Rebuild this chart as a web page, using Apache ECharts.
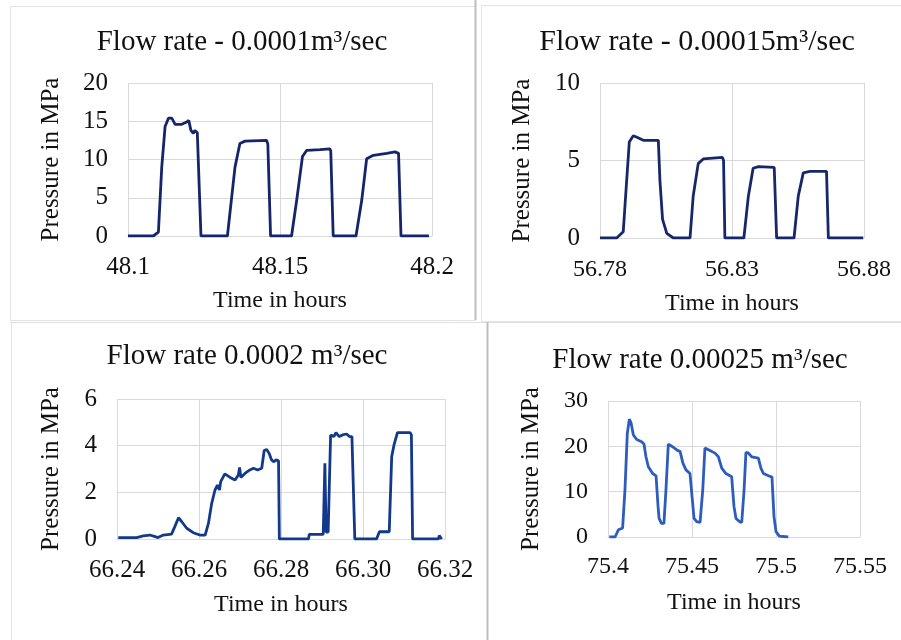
<!DOCTYPE html>
<html>
<head>
<meta charset="utf-8">
<title>Flow rate tests</title>
<script src="https://cdn.jsdelivr.net/npm/echarts@6/dist/echarts.min.js"></script>
<style>
  body { margin: 0; background: #fff; }
  #chart { width: 901px; height: 640px; }
</style>
</head>
<body>
<div id="chart"></div>
<script>
// panel 1 - 0.0001 m3/sec
var time1 = [48.1, 48.1083, 48.110, 48.1111, 48.1122, 48.1133, 48.1144, 48.1155, 48.1177, 48.1193, 48.1200, 48.1207, 48.1215, 48.1220, 48.1228, 48.1240,
  48.1327, 48.1340, 48.1352, 48.1368, 48.1385, 48.1456, 48.1460, 48.1469,
  48.1538, 48.1555, 48.1574, 48.1588, 48.1632, 48.1664, 48.1667, 48.1675,
  48.1750, 48.1769, 48.1785, 48.1807, 48.1851, 48.1878, 48.1890, 48.1898, 48.1990];
var pres1 = [0, 0, 0.5, 9.0, 14.3, 15.4, 15.4, 14.6, 14.6, 14.9, 15.1, 13.8, 13.4, 13.8, 13.5, 0,
  0, 4.7, 9.0, 12.1, 12.4, 12.5, 12.0, 0,
  0, 4.7, 10.4, 11.2, 11.3, 11.4, 11.1, 0,
  0, 4.7, 10.1, 10.55, 10.8, 11.0, 10.8, 0, 0];

// panel 2 - 0.00015 m3/sec
var time2 = [56.78, 56.7863, 56.7888, 56.7901, 56.7911, 56.7926, 56.7940, 56.7964, 56.8000, 56.8021, 56.8027, 56.8037, 56.8053, 56.8078,
  56.8141, 56.8153, 56.8172, 56.8191, 56.8264, 56.8268, 56.8273,
  56.8345, 56.8362, 56.8380, 56.8400, 56.8460, 56.8469,
  56.8535, 56.8551, 56.8570, 56.8595, 56.8658, 56.8665, 56.8797];
var pres2 = [0, 0, 0.4, 3.7, 6.2, 6.6, 6.5, 6.3, 6.3, 6.3, 3.7, 1.2, 0.3, 0,
  0, 2.7, 4.8, 5.1, 5.2, 5.0, 0,
  0, 2.7, 4.5, 4.6, 4.55, 0,
  0, 2.7, 4.2, 4.3, 4.3, 0, 0];

// panel 3 - 0.0002 m3/sec
var time3 = [66.2403, 66.2448, 66.2464, 66.2480, 66.2493, 66.2500, 66.2513, 66.2533, 66.2541, 66.2550, 66.2558, 66.2570, 66.2586, 66.2602, 66.2615,
  66.2623, 66.2631, 66.2639, 66.2645, 66.2650, 66.2653, 66.2663, 66.2676, 66.2688, 66.2696, 66.2699, 66.2702, 66.2712, 66.2724, 66.2733, 66.2743,
  66.2753, 66.2759, 66.2765, 66.2771, 66.2777, 66.2782, 66.2788, 66.2794, 66.2796,
  66.2867, 66.2869, 66.2903, 66.2907, 66.2910, 66.2915, 66.2921, 66.2929, 66.2934, 66.2942, 66.2950, 66.2960, 66.2967, 66.2973, 66.2980,
  66.3033, 66.3040, 66.3064, 66.3070, 66.3076, 66.3084, 66.3115, 66.3118, 66.3121,
  66.3184, 66.3186, 66.3192];
var pres3 = [0.06, 0.06, 0.13, 0.17, 0.1, 0.06, 0.17, 0.21, 0.53, 0.91, 0.74, 0.46, 0.27, 0.17, 0.17,
  0.67, 1.53, 2.1, 2.31, 2.1, 2.46, 2.79, 2.64, 2.53, 2.74, 3.07, 2.64, 2.81, 2.96, 3.03, 2.96,
  3.03, 3.79, 3.84, 3.67, 3.39, 3.31, 3.39, 3.35, 0,
  0, 0.2, 0.2, 3.24, 0.3, 0.3, 4.46, 4.39, 4.56, 4.39, 4.46, 4.5, 4.39, 4.39, 0,
  0, 0.31, 0.31, 3.53, 4.06, 4.56, 4.56, 4.46, 0,
  0, 0.15, 0];

// panel 4 - 0.00025 m3/sec
var time4 = [75.4008, 75.4042, 75.4062, 75.4087, 75.4101, 75.4115, 75.4127, 75.4137, 75.4151, 75.4171, 75.4200, 75.4214, 75.4226, 75.4240, 75.4266, 75.4286,
  75.4298, 75.4304, 75.4318, 75.4333, 75.4345, 75.4359, 75.4369, 75.4389, 75.4413, 75.4429, 75.4446, 75.4464, 75.4488, 75.4496,
  75.4504, 75.4512, 75.4528, 75.4548, 75.4564, 75.4577, 75.4587, 75.4607, 75.4637, 75.4657, 75.4677, 75.4702, 75.4736, 75.4743,
  75.4750, 75.4762, 75.4782, 75.4796, 75.4810, 75.4821, 75.4833, 75.4855, 75.4895, 75.4910, 75.4925, 75.4955, 75.4976,
  75.4988, 75.5000, 75.5020, 75.5073];
var pres4 = [0, 0, 1.6, 2.0, 10.4, 22.9, 26.0, 25.2, 22.5, 21.5, 21.0, 20.5, 17.7, 15.5, 14.0, 13.5,
  6.7, 4.1, 3.0, 3.0, 10.4, 20.5, 20.8, 19.8, 19.1, 18.9, 16.3, 14.8, 14.0, 13.8,
  7.4, 4.1, 3.4, 3.2, 10.4, 19.6, 19.8, 19.1, 18.5, 17.7, 15.2, 14.0, 13.3, 13.2,
  6.7, 4.1, 3.4, 3.2, 10.4, 18.6, 18.6, 17.7, 17.4, 15.2, 14.0, 13.5, 13.2,
  4.5, 1.2, 0.2, 0];

var titles = ['Flow rate - 0.0001m\u00b3/sec', 'Flow rate - 0.00015m\u00b3/sec', 'Flow rate 0.0002 m\u00b3/sec', 'Flow rate 0.00025 m\u00b3/sec'];

function zip(xs, ys) {
  var out = [];
  for (var i = 0; i < xs.length; i++) out.push([xs[i], ys[i]]);
  return out;
}

var serif = '"Liberation Serif", "DejaVu Serif", serif';
var gridColor = '#d9d9d9';

// pixel layout of each panel (plot box)
var grids = [
  { left: 128, top: 83, width: 304, height: 153 },
  { left: 600, top: 83, width: 264, height: 155 },
  { left: 117, top: 399, width: 328, height: 140 },
  { left: 608, top: 401, width: 252, height: 136 }
];
var xRange = [[48.1, 48.2, 0.05], [56.78, 56.88, 0.05], [66.24, 66.32, 0.02], [75.4, 75.55, 0.05]];
var yRange = [[0, 20, 5], [0, 10, 5], [0, 6, 2], [0, 30, 10]];
var lineColors = ['#14256b', '#16276a', '#12398a', '#2c5cbd'];
var titlePos = [[237, 23], [692, 22], [242, 337], [695, 341]];
var titleSize = [29, 30, 29, 29];
var xTickSize = [25, 24, 25, 24];
var xTickMargin = [19, 20, 19, 18];
var yTickSize = [25, 25, 25, 24];
var yNameGap = [64, 65, 53, 64];
var xNameGap = [53, 54, 54, 54];

function xFmt(i) {
  return function (v) {
    return i === 2 ? v.toFixed(2) : String(+v.toFixed(2));
  };
}

var xAxes = [], yAxes = [], series = [], titleList = [];
var allData = [zip(time1, pres1), zip(time2, pres2), zip(time3, pres3), zip(time4, pres4)];

for (var i = 0; i < 4; i++) {
  titleList.push({
    text: titles[i],
    left: titlePos[i][0],
    top: titlePos[i][1],
    textAlign: 'center',
    textStyle: { fontFamily: serif, fontSize: titleSize[i], fontWeight: 'normal', color: '#111' }
  });
  xAxes.push({
    type: 'value', gridIndex: i,
    min: xRange[i][0], max: xRange[i][1], interval: xRange[i][2],
    name: 'Time in hours', nameLocation: 'middle', nameGap: xNameGap[i],
    nameTextStyle: { fontFamily: serif, fontSize: 24, color: '#111' },
    axisLine: { show: true, lineStyle: { color: gridColor } },
    axisTick: { show: false },
    axisLabel: { formatter: xFmt(i), margin: xTickMargin[i], fontFamily: serif, fontSize: xTickSize[i], color: '#111' },
    splitLine: { show: true, lineStyle: { color: gridColor, width: 1 } }
  });
  yAxes.push({
    type: 'value', gridIndex: i,
    min: yRange[i][0], max: yRange[i][1], interval: yRange[i][2],
    name: 'Pressure in MPa', nameLocation: 'middle', nameGap: yNameGap[i],
    nameTextStyle: { fontFamily: serif, fontSize: 25, color: '#111' },
    axisLine: { show: false },
    axisTick: { show: false },
    axisLabel: { margin: 20, fontFamily: serif, fontSize: yTickSize[i], color: '#111' },
    splitLine: { show: true, lineStyle: { color: gridColor, width: 1 } }
  });
  series.push({
    type: 'line', xAxisIndex: i, yAxisIndex: i,
    data: allData[i], symbol: 'none', smooth: false,
    lineStyle: { color: lineColors[i], width: 2.8 },
    animation: false
  });
}

var chart = echarts.init(document.getElementById('chart'));
chart.setOption({
  backgroundColor: '#fff',
  animation: false,
  title: titleList,
  grid: grids,
  xAxis: xAxes,
  yAxis: yAxes,
  series: series,
  // screenshot frames round each panel
  graphic: [
    { type: 'rect', shape: { x: 10.5, y: 6.5, width: 465, height: 314 }, style: { fill: 'none', stroke: '#e3e3e3', lineWidth: 1 } },
    { type: 'line', shape: { x1: 475.5, y1: 0, x2: 475.5, y2: 320 }, style: { stroke: '#bdbdbd', lineWidth: 2 } },
    { type: 'rect', shape: { x: 481.5, y: 5.5, width: 425, height: 316 }, style: { fill: 'none', stroke: '#e3e3e3', lineWidth: 1 } },
    { type: 'line', shape: { x1: 10, y1: 322.5, x2: 901, y2: 322.5 }, style: { stroke: '#e0e0e0', lineWidth: 1 } },
    { type: 'line', shape: { x1: 11.5, y1: 322, x2: 11.5, y2: 640 }, style: { stroke: '#e3e3e3', lineWidth: 1 } },
    { type: 'line', shape: { x1: 487.5, y1: 322, x2: 487.5, y2: 640 }, style: { stroke: '#bdbdbd', lineWidth: 2 } }
  ]
});
</script>
</body>
</html>
